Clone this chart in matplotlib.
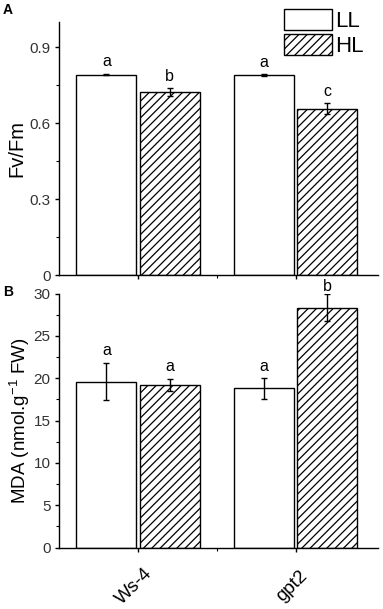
import numpy as np
import matplotlib.pyplot as plt
from matplotlib.patches import Patch
from matplotlib.ticker import MultipleLocator, FixedLocator
from matplotlib.transforms import ScaledTranslation

plt.rcParams['font.family'] = ['Liberation Sans', 'DejaVu Sans']
plt.rcParams['hatch.linewidth'] = 0.9

# data
genotypes = ["Ws-4", "gpt2"]
treatments = ["LL", "HL"]

fvfm_ll = [0.792, 0.790]
fvfm_ll_err = [0.003, 0.003]
fvfm_hl = [0.723, 0.657]
fvfm_hl_err = [0.015, 0.022]
fvfm_ll_sig = ["a", "a"]
fvfm_hl_sig = ["b", "c"]

mda_ll = [19.6, 18.8]
mda_ll_err = [2.2, 1.2]
mda_hl = [19.2, 28.3]
mda_hl_err = [0.7, 1.6]
mda_ll_sig = ["a", "a"]
mda_hl_sig = ["a", "b"]

x = np.array([1, 2])
w = 0.38
off = 0.2
HATCH = '////'

fig = plt.figure(figsize=(3.83, 6.09), dpi=100)
axA = fig.add_axes([0.154, 0.548, 0.833, 0.416])
axB = fig.add_axes([0.154, 0.1007, 0.833, 0.4173])


def draw_panel(ax, ll, ll_err, hl, hl_err, ll_sig, hl_sig, ylim, major, pad):
    ax.bar(x - off, ll, w, color='white', edgecolor='black', linewidth=1, zorder=2)
    ax.bar(x + off, hl, w, color='white', edgecolor='black', linewidth=1,
           hatch=HATCH, zorder=2)
    ax.errorbar(x - off, ll, yerr=ll_err, fmt='none', ecolor='black',
                elinewidth=1, capsize=2, capthick=1, zorder=3)
    ax.errorbar(x + off, hl, yerr=hl_err, fmt='none', ecolor='black',
                elinewidth=1, capsize=2, capthick=1, zorder=3)
    top = ylim[1] * 1.01
    for i in range(2):
        ax.text(x[i] - off, min(ll[i] + ll_err[i] + pad, top), ll_sig[i],
                ha='center', va='baseline', fontsize=11.5, clip_on=False)
        ax.text(x[i] + off, min(hl[i] + hl_err[i] + pad, top), hl_sig[i],
                ha='center', va='baseline', fontsize=11.5, clip_on=False)
    ax.set_xlim(0.5, 2.52)
    ax.set_ylim(*ylim)
    ax.yaxis.set_major_locator(MultipleLocator(major))
    ax.yaxis.set_minor_locator(MultipleLocator(major / 2))
    ax.spines['top'].set_visible(False)
    ax.spines['right'].set_visible(False)
    ax.spines['left'].set_linewidth(1)
    ax.spines['bottom'].set_linewidth(1)
    ax.tick_params(axis='y', which='major', direction='out', length=3, width=1,
                   labelsize=11, labelcolor='#333333', pad=3)
    ax.tick_params(axis='y', which='minor', direction='out', length=2, width=0.8)
    ax.set_xticks(x)
    ax.xaxis.set_minor_locator(FixedLocator([1.5]))
    ax.tick_params(axis='x', which='major', direction='out', length=3, width=1)
    ax.tick_params(axis='x', which='minor', direction='out', length=2, width=0.8)


draw_panel(axA, fvfm_ll, fvfm_ll_err, fvfm_hl, fvfm_hl_err,
           fvfm_ll_sig, fvfm_hl_sig, (0, 1.0), 0.3, 0.03)
axA.set_yticks([0, 0.3, 0.6, 0.9])
axA.set_yticklabels(["0", "0.3", "0.6", "0.9"])
axA.set_xticklabels([])
axA.set_ylabel("Fv/Fm", fontsize=14.5, labelpad=2)

draw_panel(axB, mda_ll, mda_ll_err, mda_hl, mda_hl_err,
           mda_ll_sig, mda_hl_sig, (0, 30), 5, 0.9)
axB.set_xticklabels(genotypes, rotation=45, fontsize=13.5,
                    rotation_mode='anchor', ha='center', va='center')
axB.tick_params(axis='x', which='major', pad=25)
for lab in axB.get_xticklabels():
    lab.set_transform(lab.get_transform() +
                      ScaledTranslation(-0.04, 0, fig.dpi_scale_trans))
axB.set_ylabel(r"MDA (nmol.g$^{\mathregular{-1}}$ FW)", fontsize=13.5, labelpad=1)

handles = [Patch(facecolor='white', edgecolor='black', linewidth=1),
           Patch(facecolor='white', edgecolor='black', linewidth=1, hatch=HATCH)]
axA.legend(handles, treatments, loc='upper left',
           bbox_to_anchor=(284 / 383, 1 - 9 / 609), bbox_transform=fig.transFigure,
           frameon=False, fontsize=16, handlelength=2.16, handleheight=1.08,
           handletextpad=0.12, labelspacing=0.07, borderpad=0, borderaxespad=0)

fig.text(0.008, 0.984, "A", fontsize=10, fontweight='bold', va='center')
fig.text(0.008, 0.521, "B", fontsize=10, fontweight='bold', va='center')

fig.savefig("out.png", dpi=100)
